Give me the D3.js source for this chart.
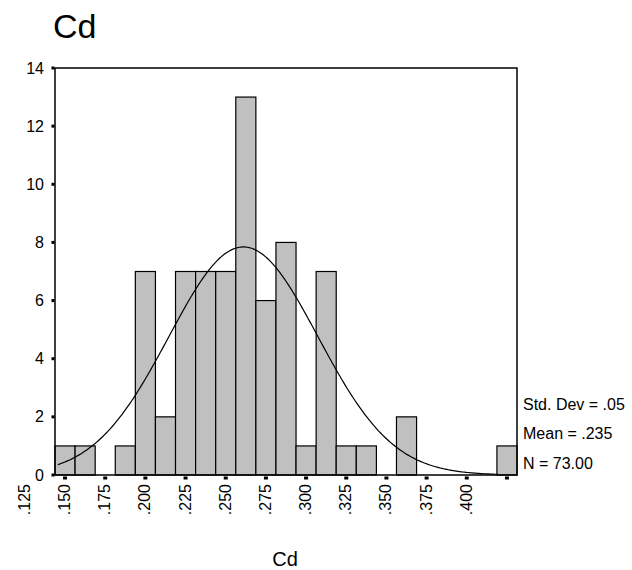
<!DOCTYPE html>
<html>
<head>
<meta charset="utf-8">
<script src="https://cdn.jsdelivr.net/npm/d3@7"></script>
<style>
  body { margin: 0; background: #fff; }
  svg text { font-family: "Liberation Sans", Arial, sans-serif; fill: #000; }
</style>
</head>
<body>
<div id="chart"></div>
<script>
// bin centres (Cd) and counts
var binCenters = [0.150, 0.1625, 0.175, 0.1875, 0.200, 0.2125, 0.225, 0.2375, 0.250, 0.2625, 0.275, 0.2875,
                  0.300, 0.3125, 0.325, 0.3375, 0.350, 0.3625, 0.375, 0.3875, 0.400, 0.4125, 0.425];
var binCounts  = [1, 1, 0, 1, 7, 2, 7, 7, 7, 13, 6, 8,
                  1, 7, 1, 1, 0, 2, 0, 0, 0, 0, 1];
var binWidth = 0.0125;

var xTicks = [0.125, 0.150, 0.175, 0.200, 0.225, 0.250, 0.275, 0.300, 0.325, 0.350, 0.375, 0.400, 0.425];
var xTickLabels = [".125", ".150", ".175", ".200", ".225", ".250", ".275", ".300", ".325", ".350", ".375", ".400", ""];
var yTicks = [0, 2, 4, 6, 8, 10, 12, 14];

var stats = ["Std. Dev = .05", "Mean = .235", "N = 73.00"];
var nTotal = 73;
// normal curve as drawn (position on the axis as plotted)
var curveMean = 0.261, curveSd = 0.0464;

var W = 632, H = 570;
var plot = {l: 55, r: 517, t: 68, b: 475};

var svg = d3.select("#chart").append("svg")
  .attr("width", W).attr("height", H);

var x = d3.scaleLinear()
  .domain([binCenters[0] - binWidth / 2, binCenters[binCenters.length - 1] + binWidth / 2])
  .range([plot.l, plot.r]);
var y = d3.scaleLinear().domain([0, 14]).range([plot.b, plot.t]);

// title
svg.append("text").attr("x", 53).attr("y", 38)
  .style("font-size", "34px").text("Cd");

// bars
var bins = binCenters.map(function(c, i){ return {c: c, n: binCounts[i]}; })
  .filter(function(d){ return d.n > 0; });

svg.selectAll(".bar").data(bins).enter().append("rect")
  .attr("class", "bar")
  .attr("x", function(d){ return x(d.c - binWidth / 2); })
  .attr("width", function(d){ return x(d.c + binWidth / 2) - x(d.c - binWidth / 2); })
  .attr("y", function(d){ return y(d.n); })
  .attr("height", function(d){ return y(0) - y(d.n); })
  .style("fill", "#c0c0c0")
  .style("stroke", "#000")
  .style("stroke-width", "1.2px");

// normal curve
var pts = d3.range(0.1455, 0.4200, 0.001).map(function(v){
  var z = (v - curveMean) / curveSd;
  return {x: v, y: nTotal * binWidth / (curveSd * Math.sqrt(2 * Math.PI)) * Math.exp(-0.5 * z * z)};
});
svg.append("path").datum(pts)
  .attr("d", d3.line().x(function(d){ return x(d.x); }).y(function(d){ return y(d.y); }))
  .style("fill", "none").style("stroke", "#000").style("stroke-width", "1.2px");

// frame
svg.append("rect")
  .attr("x", plot.l).attr("y", plot.t)
  .attr("width", plot.r - plot.l).attr("height", plot.b - plot.t)
  .style("fill", "none").style("stroke", "#000").style("stroke-width", "1.5px");

// y axis: small square ticks + labels
var yAxis = svg.append("g");
yAxis.selectAll("rect").data(yTicks).enter().append("rect")
  .attr("x", plot.l - 3.5).attr("y", function(d){ return y(d) - 1.5; })
  .attr("width", 3).attr("height", 3).style("fill", "#000");
yAxis.selectAll("text").data(yTicks).enter().append("text")
  .attr("x", 44).attr("y", function(d){ return y(d) + 5.5; })
  .attr("text-anchor", "end").style("font-size", "16px")
  .text(function(d){ return d; });

// x axis: square ticks below axis (not for .125) + rotated labels
var xAxis = svg.append("g");
xAxis.selectAll("rect").data(xTicks.slice(1)).enter().append("rect")
  .attr("x", function(d){ return x(d) - 2; }).attr("y", plot.b + 1.5)
  .attr("width", 4).attr("height", 3).style("fill", "#000");
xAxis.selectAll("text").data(xTicks).enter().append("text")
  .attr("transform", function(d){ return "translate(" + (x(d) + 5) + "," + (plot.b + 9) + ") rotate(-90)"; })
  .attr("text-anchor", "end").style("font-size", "16px")
  .text(function(d, i){ return xTickLabels[i]; });

// axis title
svg.append("text").attr("x", 285).attr("y", 566)
  .attr("text-anchor", "middle").style("font-size", "20px").text("Cd");

// statistics
svg.selectAll(".stat").data(stats).enter().append("text")
  .attr("class", "stat")
  .attr("x", 523).attr("y", function(d, i){ return 410 + i * 29.3; })
  .style("font-size", "16px")
  .text(function(d){ return d; });
</script>
</body>
</html>
